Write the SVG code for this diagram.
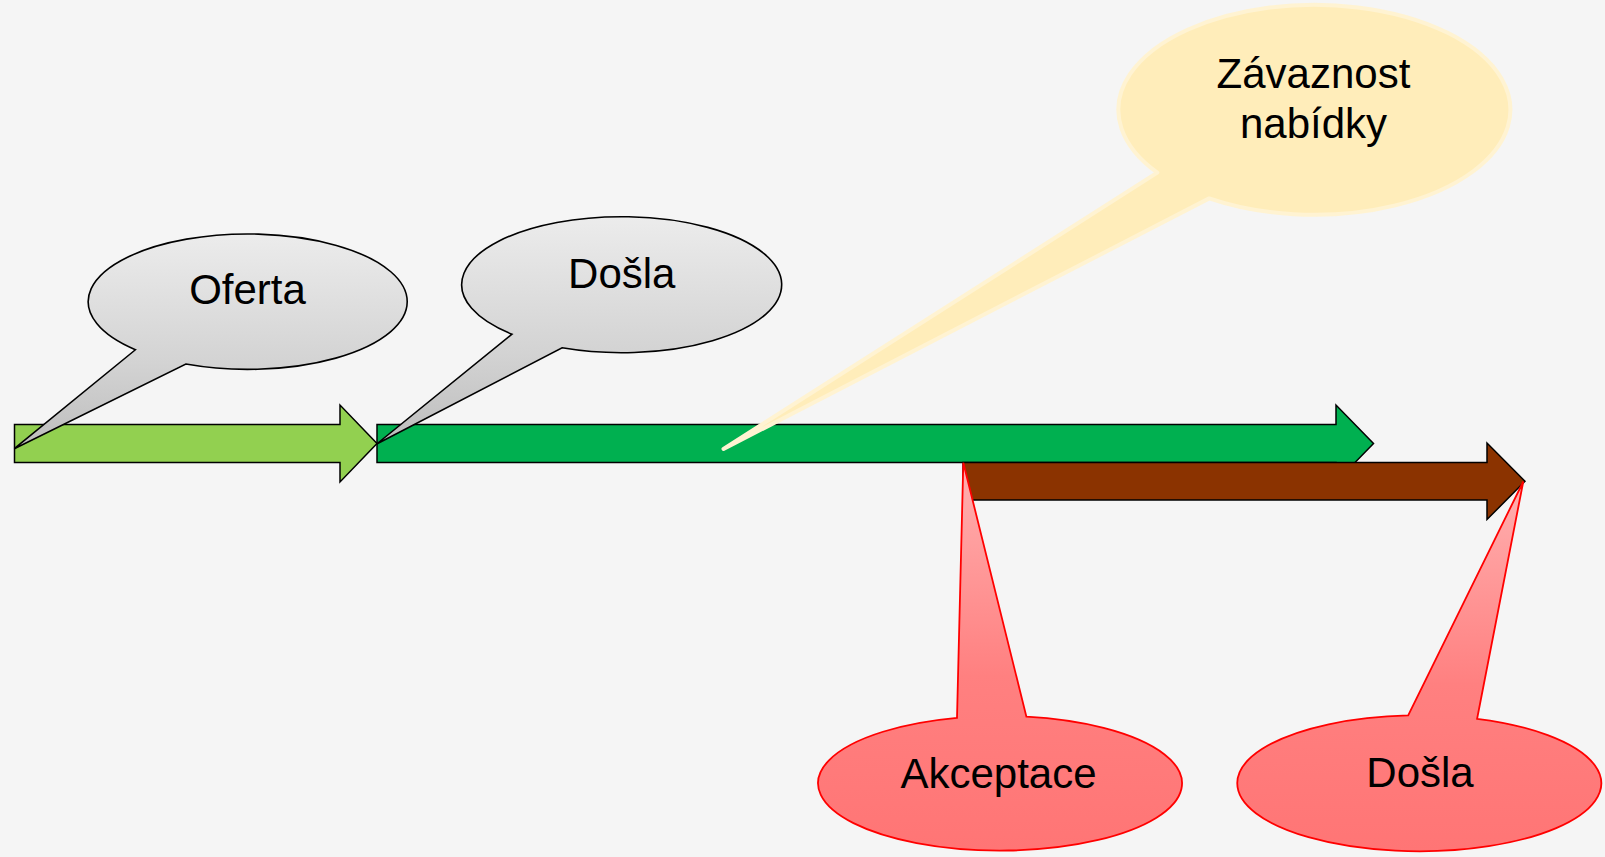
<svg xmlns="http://www.w3.org/2000/svg" width="1605" height="857" viewBox="0 0 1605 857">
<defs>
<linearGradient id="gGray" x1="0" y1="0" x2="0" y2="1">
<stop offset="0" stop-color="#ECECEC"/>
<stop offset="0.6" stop-color="#D3D3D3"/>
<stop offset="1" stop-color="#BDBDBD"/>
</linearGradient>
<linearGradient id="gRed" x1="0" y1="0" x2="0" y2="1">
<stop offset="0" stop-color="#FFB0B0"/>
<stop offset="0.55" stop-color="#FF8080"/>
<stop offset="1" stop-color="#FF7575"/>
</linearGradient>
<style>
.arrow{stroke:#000;stroke-width:1.5;stroke-linejoin:miter}
.gray{fill:url(#gGray);stroke:#000;stroke-width:1.6}
.red{fill:url(#gRed);stroke:#FF0000;stroke-width:1.8}
.cream{fill:#FFEDBA;stroke:#FFF3D2;stroke-width:4;stroke-linejoin:round}
.t{font-family:"Liberation Sans",Arial,sans-serif;font-size:42px;fill:#000;text-anchor:middle}
</style>
</defs>
<rect width="1605" height="857" fill="#F5F5F5"/>
<g id="arrow-oferta">
<path class="arrow" fill="#92D050" d="M14.5,424.5 L340,424.5 L340,405 L377,443.5 L340,482 L340,462.5 L14.5,462.5 Z"/>
</g>
<g id="arrow-zavaznost">
<path class="arrow" fill="#00B050" d="M377,424.5 L1336,424.5 L1336,405 L1373.5,443.5 L1336,482 L1336,462.5 L377,462.5 Z"/>
</g>
<g id="arrow-akceptace">
<path class="arrow" fill="#8B3300" d="M963,462.5 L1487,462.5 L1487,443 L1525,481.3 L1487,519.5 L1487,500 L963,500 Z"/>
</g>
<g id="connectors"></g>
<g id="callout-oferta">
<path class="gray" d="M135.4,349.75 L14.3,448.7 L185.85,364.08 A159.5,67.7 0 1 0 135.4,349.75 Z"/>
<text class="t" x="247.5" y="304">Oferta</text>
</g>
<g id="callout-dosla1">
<path class="gray" d="M512,334.2 L376.7,444 L562.1,347.8 A160,68 0 1 0 512,334.2 Z"/>
<text class="t" x="621.8" y="288.3">Došla</text>
</g>
<g id="callout-zavaznost">
<path class="cream" d="M1157.3,172.6 L723.5,449 L1209.2,198.4 A196,105 0 1 0 1157.3,172.6 Z"/>
<text class="t" x="1313.5" y="88.3">Závaznost</text>
<text class="t" x="1313.5" y="138.3">nabídky</text>
</g>
<g id="callout-akceptace">
<path class="red" d="M957,717.9 L963.3,462.7 L1026.4,716.7 A182,67.3 0 1 1 957,717.9 Z"/>
<text class="t" x="998.5" y="787.7">Akceptace</text>
</g>
<g id="callout-dosla2">
<path class="red" d="M1408.2,715.4 L1523.3,481.5 L1477.1,718.8 A182,68 0 1 1 1408.2,715.4 Z"/>
<text class="t" x="1420" y="787.3">Došla</text>
</g>
</svg>
